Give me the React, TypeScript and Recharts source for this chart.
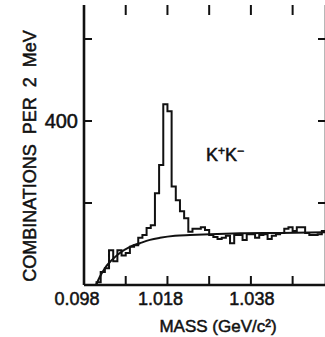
import React from 'react';
import { ComposedChart, Line, XAxis, YAxis } from 'recharts';

// bin lower edges in GeV, 1 MeV wide steps as drawn
const massBins = [
  1.001, 1.002, 1.003, 1.004, 1.005, 1.006, 1.007, 1.008, 1.009, 1.010,
  1.011, 1.012, 1.013, 1.014, 1.015, 1.016, 1.017, 1.018, 1.019, 1.020,
  1.021, 1.022, 1.023, 1.024, 1.025, 1.026, 1.027, 1.028, 1.029, 1.030,
  1.031, 1.032, 1.033, 1.034, 1.035, 1.036, 1.037, 1.038, 1.039, 1.040,
  1.041, 1.042, 1.043, 1.044, 1.045, 1.046, 1.047, 1.048, 1.049, 1.050,
  1.051, 1.052, 1.053, 1.054, 1.055,
];
const counts = [
  7, 32, 41, 85, 58, 85, 72, 78, 93, 97,
  115, 122, 139, 146, 224, 293, 441, 424, 240, 207,
  180, 163, 130, 137, 137, 141, 134, 122, 117, 112,
  115, 120, 102, 122, 122, 110, 124, 124, 115, 122,
  124, 112, 120, 124, 127, 137, 141, 132, 141, 141,
  127, 122, 122, 124, 132,
];
const lastEdge = 1.056;

// smooth background fit
const fitMass = [1.0009, 1.0018, 1.0030, 1.0042, 1.0054, 1.0066, 1.0090, 1.0114, 1.0138, 1.0162, 1.0198, 1.0234, 1.0282, 1.0354, 1.0450, 1.0561];
const fitCounts = [0, 20, 41, 56, 68, 78, 93, 102, 110, 115, 120, 122, 124, 126, 127, 129];

const xTicks = [0.998, 1.008, 1.018, 1.028, 1.038, 1.048];
const xTickLabels = ['0.098', '', '1.018', '', '1.038', ''];
const yTicks = [200, 400, 600];
const yTickLabels = ['', '400', ''];

const font = '"Liberation Sans", Arial, Helvetica, sans-serif';
const ink = '#111';
const bold = { stroke: ink, strokeWidth: 0.5 };
const frameTop = 5;

const histData = [
  { m: massBins[0], n: 0 },
  ...massBins.map((m, i) => ({ m, n: counts[i] })),
  { m: lastEdge, n: counts[counts.length - 1] },
];
const fitData = fitMass.map((m, i) => ({ m, n: fitCounts[i] }));

// ticks point into the frame; the bottom axis also draws the matching top ticks
const BottomTick = ({ x, y, payload }: any) => {
  const label = xTickLabels[xTicks.indexOf(payload.value)];
  const nudge = label === '1.038' ? 1 : -7;
  return (
    <g>
      <line x1={x} x2={x} y1={y} y2={y - 9} stroke={ink} strokeWidth={2} />
      <line x1={x} x2={x} y1={frameTop} y2={frameTop + 10} stroke={ink} strokeWidth={2} />
      {label ? (
        <text x={x + nudge} y={y + 7} dy="0.71em" textAnchor="middle" fontSize={18} fill={ink} fontFamily={font} {...bold}>
          {label}
        </text>
      ) : null}
    </g>
  );
};

const LeftTick = ({ x, y, payload }: any) => {
  const label = yTickLabels[yTicks.indexOf(payload.value)];
  return (
    <g>
      <line x1={x} x2={x + 8} y1={y} y2={y} stroke={ink} strokeWidth={2} />
      {label ? (
        <text x={x - 6} y={y} dy="0.36em" textAnchor="end" fontSize={20} fill={ink} fontFamily={font} {...bold}>
          {label}
        </text>
      ) : null}
    </g>
  );
};

const RightTick = ({ x, y }: any) => (
  <line x1={x} x2={x - 8} y1={y} y2={y} stroke={ink} strokeWidth={2} />
);

const XTitle = ({ viewBox }: any) => (
  <text x={viewBox.x + viewBox.width / 2 + 13} y={332} textAnchor="middle" fontSize={17} fill={ink} fontFamily={font} {...bold}>
    MASS (GeV/c²)
  </text>
);

const YTitle = ({ viewBox }: any) => {
  const cx = 30;
  const cy = viewBox.y + viewBox.height / 2 + 11;
  return (
    <text
      x={cx}
      y={cy}
      transform={`rotate(-90 ${cx} ${cy})`}
      textAnchor="middle"
      dominantBaseline="central"
      fontSize={18}
      fill={ink}
      fontFamily={font}
      style={{ whiteSpace: 'pre' }}
      {...bold}
    >
      {'COMBINATIONS  PER  2  MeV'}
    </text>
  );
};

export default function App() {
  const axisLine = { stroke: ink, strokeWidth: 2.6 };
  return (
    <div style={{ position: 'absolute', left: 0, top: 0, width: 325, height: 337, overflow: 'hidden', background: '#fff' }}>
      <ComposedChart width={330} height={337} margin={{ top: frameTop, right: 0, bottom: 0, left: 0 }}>
        <XAxis
          xAxisId="b"
          type="number"
          dataKey="m"
          domain={[0.998, 1.056]}
          allowDataOverflow
          ticks={xTicks}
          height={52}
          axisLine={axisLine}
          tickLine={false}
          tickSize={0}
          tickMargin={0}
          tick={<BottomTick />}
          interval={0}
          label={{ content: <XTitle /> }}
        />
        <XAxis
          xAxisId="t"
          orientation="top"
          type="number"
          domain={[0.998, 1.056]}
          allowDataOverflow
          height={0}
          axisLine={axisLine}
          tickLine={false}
          tick={false}
        />
        <YAxis
          yAxisId="l"
          type="number"
          domain={[0, 683]}
          allowDataOverflow
          ticks={yTicks}
          width={84}
          axisLine={axisLine}
          tickLine={false}
          tickSize={0}
          tickMargin={0}
          tick={<LeftTick />}
          interval={0}
          label={{ content: <YTitle /> }}
        />
        <YAxis
          yAxisId="r"
          orientation="right"
          type="number"
          domain={[0, 683]}
          allowDataOverflow
          ticks={yTicks}
          width={4}
          axisLine={axisLine}
          tickLine={false}
          tickSize={0}
          tickMargin={0}
          tick={<RightTick />}
          interval={0}
        />
        <Line
          xAxisId="b"
          yAxisId="l"
          data={histData}
          dataKey="n"
          type="stepAfter"
          stroke={ink}
          strokeWidth={2}
          dot={false}
          isAnimationActive={false}
        />
        <Line
          xAxisId="b"
          yAxisId="l"
          data={fitData}
          dataKey="n"
          type="monotone"
          stroke={ink}
          strokeWidth={2}
          dot={false}
          isAnimationActive={false}
        />
      </ComposedChart>
      <svg width={325} height={337} style={{ position: 'absolute', left: 0, top: 0, pointerEvents: 'none' }}>
        <text x={206} y={161} fontSize={18} fill={ink} fontFamily={font} {...bold}>
          K<tspan dy={-6} fontSize={12}>+</tspan>
          <tspan dy={6}>K</tspan>
          <tspan dy={-6} fontSize={12}>−</tspan>
        </text>
      </svg>
    </div>
  );
}
